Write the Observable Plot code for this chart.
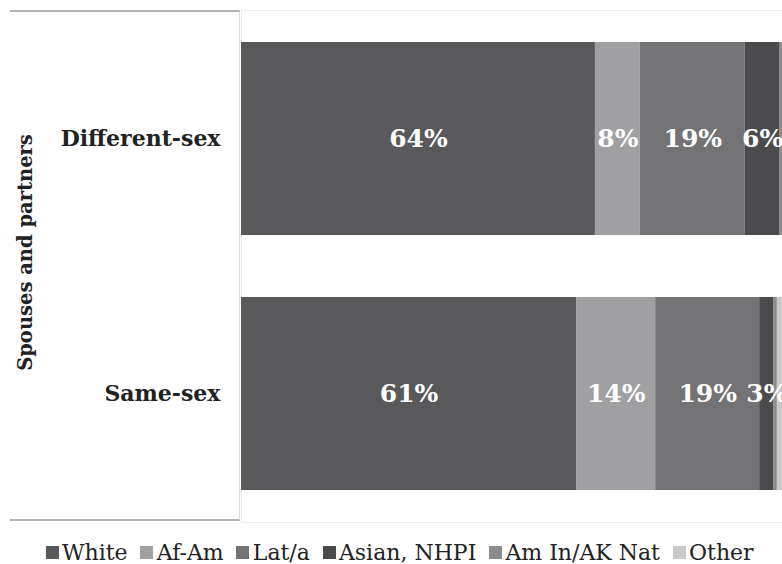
<!DOCTYPE html>
<html>
<head>
<meta charset="utf-8">
<script src="https://cdn.jsdelivr.net/npm/d3@7"></script>
<script src="https://cdn.jsdelivr.net/npm/@observablehq/plot@0.6"></script>
<style>
  html, body { margin: 0; padding: 0; background: #fff; overflow: hidden; }
  #wrap { position: relative; width: 794px; }
  #panel { position: absolute; left: 10px; top: 10px; width: 230px; height: 511px;
           border-top: 2px solid #b4b4b4; border-bottom: 2px solid #b4b4b4; border-right: 1px solid #d8d8d8; box-sizing: border-box; }
  #legend { width: 812px; display: flex; justify-content: center; margin-top: 6px; }
  .leg-swatch { margin-right: 0.58em !important; }
  .leg-swatch > svg { margin-right: 0.15em !important; }
</style>
</head>
<body>
<div id="wrap">
  <div id="panel"></div>
  <div id="chart"></div>
</div>
<div id="legend"></div>
<script>
const groups = ["Different-sex", "Same-sex"];
const races = ["White", "Af-Am", "Lat/a", "Asian, NHPI", "Am In/AK Nat", "Other"];
const colors = ["#59595b", "#a0a0a3", "#737375", "#4b4b4d", "#8c8c8e", "#c9c9c9"];
const differentSex = [64.0, 8.1, 19.0, 6.3, 0.6, 2.0];
const sameSex = [60.6, 14.3, 18.8, 2.6, 0.6, 3.1];
const labelledRaces = ["White", "Af-Am", "Lat/a", "Asian, NHPI"];
const yTitle = "Spouses and partners";

const data = [];
races.forEach((r, i) => {
  data.push({group: groups[0], race: r, value: differentSex[i]});
  data.push({group: groups[1], race: r, value: sameSex[i]});
});

const serif = "'DejaVu Serif', 'Liberation Serif', serif";

const chart = Plot.plot({
  width: 794,
  height: 530,
  marginLeft: 241,
  marginRight: 0,
  marginTop: 10,
  marginBottom: 8,
  style: {fontFamily: serif, fontSize: "22px", fontWeight: "bold", color: "#222", background: "transparent"},
  x: {domain: [0, 100], axis: null},
  y: {domain: groups, paddingInner: 0.243, paddingOuter: 0.125},
  color: {domain: races, range: colors},
  marks: [
    Plot.frame({stroke: "#ececec"}),
    Plot.barX(data, {x: "value", y: "group", fill: "race", order: races}),
    Plot.text(data, Plot.stackX({
      x: "value", y: "group", z: "race", order: races,
      text: d => labelledRaces.includes(d.race) ? Math.round(d.value) + "%" : "",
      fill: "white", fontSize: 25, fontWeight: "bold"
    })),
    Plot.axisY({tickSize: 0, tickPadding: 21, label: null, fontSize: 22}),
    Plot.text([yTitle], {
      frameAnchor: "left", text: d => d, rotate: -90, dx: -216, dy: -14,
      textAnchor: "middle", lineAnchor: "middle", fontSize: 19.5, fontWeight: "bold", fill: "#222"
    })
  ]
});
document.getElementById("chart").appendChild(chart);

const leg = Plot.legend({
  color: {domain: races, range: colors},
  legend: "swatches",
  swatchSize: 13,
  className: "leg",
  style: {fontFamily: serif, fontSize: "22px", color: "#222"}
});
document.getElementById("legend").appendChild(leg);
</script>
</body>
</html>
